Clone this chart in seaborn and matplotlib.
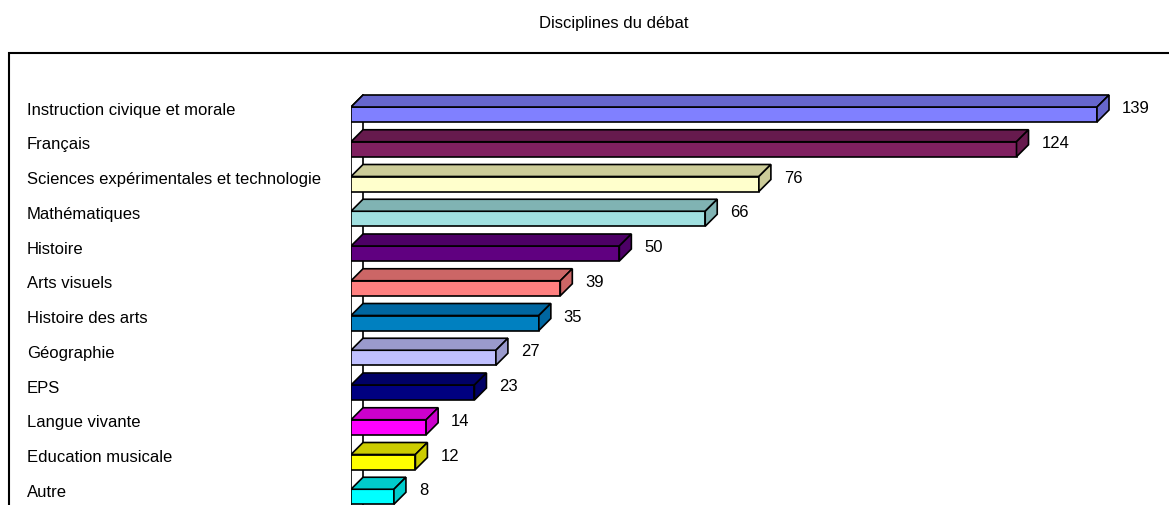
import numpy as np
import pandas as pd
import matplotlib
matplotlib.use("Agg")
import matplotlib.pyplot as plt
from matplotlib.patches import Polygon, Rectangle
import seaborn as sns

# ── Data ──────────────────────────────────────────────────────────────────────
disciplines = [
    "Instruction civique et morale", "Français",
    "Sciences expérimentales et technologie", "Mathématiques", "Histoire",
    "Arts visuels", "Histoire des arts", "Géographie", "EPS",
    "Langue vivante", "Education musicale", "Autre",
]
counts = [139, 124, 76, 66, 50, 39, 35, 27, 23, 14, 12, 8]
front_colors = [
    "#8080FF", "#802060", "#FFFFCC", "#A0E0E0", "#600080", "#FF8080",
    "#0080C0", "#C0C0FF", "#000080", "#FF00FF", "#FFFF00", "#00FFFF",
]
shade_colors = [
    "#6666CC", "#661A4D", "#CCCC99", "#80B3B3", "#4D0066", "#CC6666",
    "#0066A0", "#9A9ACC", "#000066", "#CC00CC", "#CCCC00", "#00CCCC",
]

df = pd.DataFrame({"discipline": disciplines, "n": counts})

sns.set_theme(style="white")
plt.rcParams["font.family"] = ["Liberation Sans", "DejaVu Sans"]

W, H = 1169, 506
fig = plt.figure(figsize=(W / 100, H / 100), dpi=100)

# axes: value 0 at x=351px, row 0 centred at y=115.5px, rows 34.75px apart
px_per_unit = 5.367
row_px = 34.75
ax_left = 351
ax_top = 60
ax = fig.add_axes([ax_left / W, 0, 1 - ax_left / W, 1 - ax_top / H])
xmax = (W - ax_left) / px_per_unit
y_top = (ax_top - 115.5) / row_px
y_bot = (H - 115.5) / row_px

bar_h = 15 / row_px
dx = 12 / px_per_unit
dy = 12 / row_px

sns.barplot(data=df, x="n", y="discipline", hue="discipline",
            palette=front_colors, orient="h", width=bar_h, legend=False,
            edgecolor="black", linewidth=1.2, saturation=1, zorder=3, ax=ax)
ax.set_xlim(0, xmax)
ax.set_ylim(y_bot, y_top)

# 3D top and side faces
for i, (v, shade) in enumerate(zip(counts, shade_colors)):
    top = i - bar_h / 2
    bot = i + bar_h / 2
    ax.add_patch(Polygon([(0, top), (dx, top - dy), (v + dx, top - dy), (v, top)],
                         closed=True, facecolor=shade, edgecolor="black",
                         linewidth=1.2, zorder=3))
    ax.add_patch(Polygon([(v, top), (v + dx, top - dy), (v + dx, bot - dy), (v, bot)],
                         closed=True, facecolor=shade, edgecolor="black",
                         linewidth=1.2, zorder=3))
    ax.text(v + dx + 2.4, i - 0.2, str(v), ha="left", va="center",
            fontsize=12, color="black", zorder=4)

# wall lines (behind the bars)
wall_top = -bar_h / 2
ax.plot([0, 0], [wall_top, y_bot], color="black", lw=1.2, zorder=1)
ax.plot([dx, dx], [wall_top - dy, y_bot], color="black", lw=1.2, zorder=1)
ax.plot([0, dx], [wall_top, wall_top - dy], color="black", lw=1.2, zorder=1)

ax.set_xlabel("")
ax.set_ylabel("")
ax.set_xticks([])
ax.set_yticks(np.arange(len(disciplines)) - 0.2)
ax.set_yticklabels(disciplines)
ax.tick_params(axis="y", length=0, pad=(ax_left - 27) * 0.72, labelsize=12,
               labelcolor="black")
for lab in ax.get_yticklabels():
    lab.set_ha("left")
    lab.set_zorder(0)
for s in ax.spines.values():
    s.set_visible(False)
ax.patch.set_alpha(0)

# chart frame
fig.patches.append(Rectangle((9 / W, -0.1), 1.2, 1.1 - 54 / H,
                             transform=fig.transFigure, fill=False,
                             edgecolor="black", linewidth=1.5, zorder=0))

fig.text(614 / W, 1 - 24 / H, "Disciplines du débat", ha="center",
         va="center", fontsize=12, color="black")

fig.savefig("out.png", dpi=100)
